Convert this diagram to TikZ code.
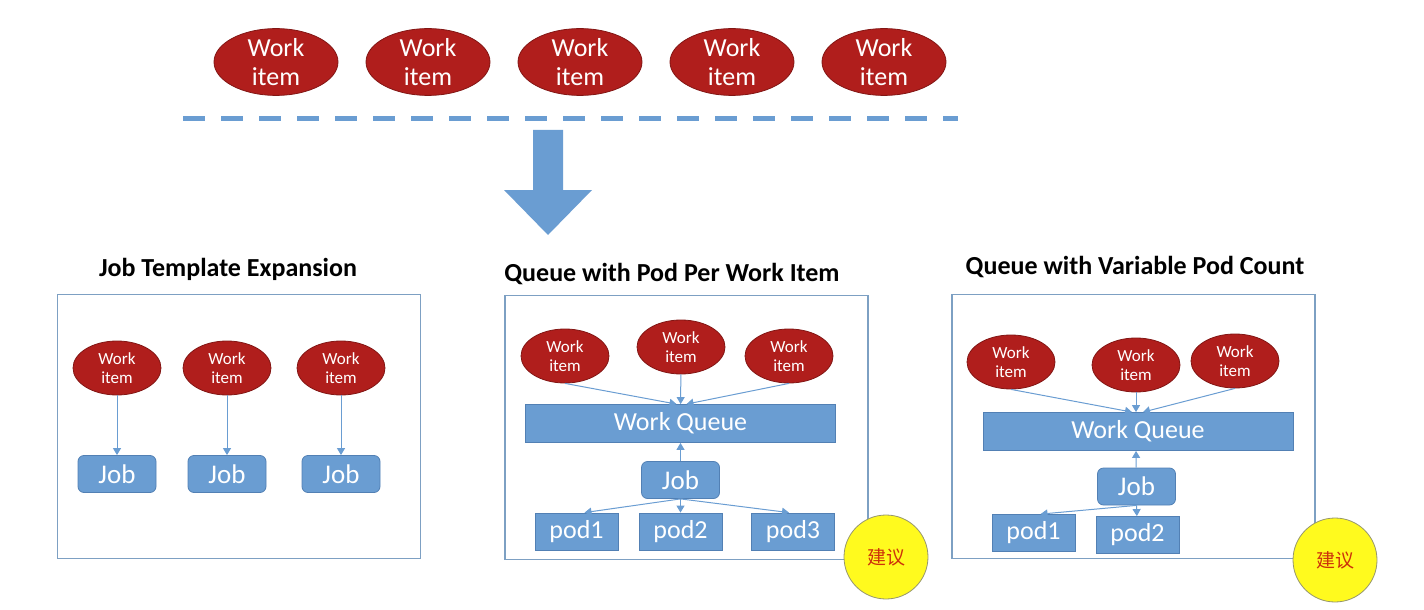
\documentclass[tikz,border=0pt]{standalone}
\usepackage{fontspec}
\setmainfont{Carlito}
\newfontfamily\cjk{Noto Sans CJK SC}
\usepackage{tikz}
\usetikzlibrary{arrows, arrows.meta, shapes.geometric, positioning}

\definecolor{itemred}{RGB}{176,30,28}
\definecolor{itemedge}{RGB}{130,22,20}
\definecolor{boxblue}{RGB}{106,157,210}
\definecolor{boxedge}{RGB}{82,128,180}
\definecolor{paneledge}{RGB}{125,160,195}
\definecolor{hintyellow}{RGB}{255,250,30}
\definecolor{hintedge}{RGB}{150,150,110}
\definecolor{hintred}{RGB}{205,50,10}

\begin{document}
\begin{tikzpicture}[x=0.5pt,y=-0.5pt,node distance=76pt,on grid,
    >={Triangle[length=3.5pt,width=4pt]},
    bigitem/.style={ellipse,draw=itemedge,fill=itemred,text=white,align=center,inner sep=0pt,
        minimum width=62pt,minimum height=32.5pt,font=\fontsize{13}{14.5}\selectfont},
    item/.style={bigitem,minimum width=44pt,minimum height=27pt,font=\fontsize{8.5}{9.5}\selectfont},
    job/.style={rectangle,rounded corners=3pt,draw=boxedge,fill=boxblue,text=white,
        minimum width=39pt,minimum height=18.5pt,font=\fontsize{13.5}{14}\selectfont},
    pod/.style={job,rounded corners=0pt,minimum width=41.5pt,font=\fontsize{13}{14}\selectfont},
    queue/.style={pod,minimum width=155pt,minimum height=19pt},
    panel/.style={draw=paneledge,line width=0.6pt,minimum width=181.5pt,minimum height=132pt},
    title/.style={font=\bfseries\fontsize{13}{14}\selectfont},
    hint/.style={circle,draw=hintedge,fill=hintyellow,minimum size=42pt,inner sep=0pt,
        text=hintred,font=\cjk\fontsize{9.5}{10}\selectfont},
    link/.style={->,boxblue,line width=0.5pt}]
    \useasboundingbox (0,0) rectangle (1424,610);

    % incoming work items
    \node[bigitem]  (w_1)   at (276,62)         {Work\\item};
    \node[bigitem]  (w_2)   [right of=w_1]      {Work\\item};
    \node[bigitem]  (w_3)   [right of=w_2]      {Work\\item};
    \node[bigitem]  (w_4)   [right of=w_3]      {Work\\item};
    \node[bigitem]  (w_5)   [right of=w_4]      {Work\\item};

    \draw[boxblue,line width=2.5pt,dash pattern=on 11pt off 8pt] (183,119) -- (958,119);
    \fill[boxblue] (533,130) -- (563,130) -- (563,190) -- (592,190) -- (548,235)
        -- (504,190) -- (533,190) -- cycle;

    % job template expansion
    \node[title]    (t_a)   at (228,269)        {Job Template Expansion};
    \node[panel]    (box_a) at (239,426.5)      {};
    \node[item]     (a_1)   at (117,368)        {Work\\item};
    \node[item]     (a_2)   at (227,368)        {Work\\item};
    \node[item]     (a_3)   at (341,368)        {Work\\item};
    \node[job]      (ja_1)  at (117,474)        {Job};
    \node[job]      (ja_2)  at (227,474)        {Job};
    \node[job]      (ja_3)  at (341,474)        {Job};

    \path[link] (a_1) edge (ja_1)
        (a_2) edge (ja_2)
        (a_3) edge (ja_3);

    % queue with pod per work item
    \node[title]    (t_b)   at (672,274)        {Queue with Pod Per Work Item};
    \node[panel]    (box_b) at (686.5,427.5)    {};
    \node[item]     (b_1)   at (565,356)        {Work\\item};
    \node[item]     (b_2)   at (681,347)        {Work\\item};
    \node[item]     (b_3)   at (789,356)        {Work\\item};
    \node[queue]    (q_b)   at (680.5,423.5)    {Work Queue};
    \node[job]      (jb)    at (680.5,480)      {Job};
    \node[pod]      (pb_1)  at (576.5,531.5)    {pod1};
    \node[pod]      (pb_2)  at (680.5,531.5)    {pod2};
    \node[pod]      (pb_3)  at (793,531.5)      {pod3};
    \node[hint]     (h_b)   at (886,557)        {建议};

    \path[link] (b_1.south) edge ([xshift=-2pt]q_b.north)
        (b_2) edge (q_b)
        (b_3.south) edge ([xshift=3pt]q_b.north)
        (jb) edge (q_b)
        (jb.south) edge ([xshift=4pt]pb_1.north)
        edge (pb_2)
        edge ([xshift=-2pt]pb_3.north);

    % queue with variable pod count
    \node[title]    (t_c)   at (1135,267)       {Queue with Variable Pod Count};
    \node[panel]    (box_c) at (1133.5,426.5)   {};
    \node[item]     (c_1)   at (1011,362)       {Work\\item};
    \node[item]     (c_2)   at (1136,365)       {Work\\item};
    \node[item]     (c_3)   at (1235,361)       {Work\\item};
    \node[queue]    (q_c)   at (1138,431.5)     {Work Queue};
    \node[job]      (jc)    at (1136.5,486.5)   {Job};
    \node[pod]      (pc_1)  at (1033.5,533)     {pod1};
    \node[pod]      (pc_2)  at (1137.5,535)     {pod2};
    \node[hint]     (h_c)   at (1335,560)       {建议};

    \path[link] (c_1.south) edge ([xshift=-3pt]q_c.north)
        (c_2) edge ([xshift=-1pt]q_c.north)
        (c_3.south) edge ([xshift=2.5pt]q_c.north)
        (jc) edge ([xshift=-1pt]q_c.south)
        (jc.south) edge ([xshift=3.5pt]pc_1.north)
        edge (pc_2);
\end{tikzpicture}
\end{document}
